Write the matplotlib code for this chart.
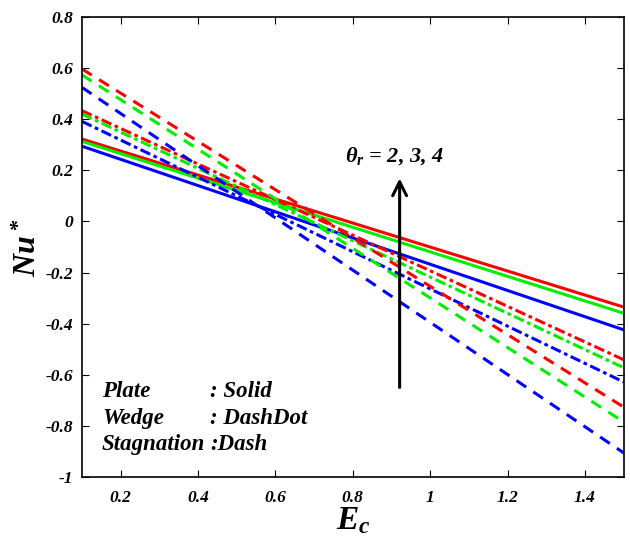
import numpy as np
import matplotlib.pyplot as plt

plt.rcParams['font.family'] = 'Liberation Serif'
plt.rcParams['mathtext.fontset'] = 'custom'
plt.rcParams['mathtext.it'] = 'Liberation Serif:bold:italic'
plt.rcParams['mathtext.rm'] = 'Liberation Serif:bold:italic'
plt.rcParams['mathtext.bf'] = 'Liberation Serif:bold:italic'

# Ec range (lines are straight)
ec = [0.1, 1.5]

# Nu* at Ec = 0.1 and Ec = 1.5, theta_r = 2 (blue), 3 (green), 4 (red)
plate_b = [0.294, -0.424]
plate_g = [0.313, -0.359]
plate_r = [0.322, -0.335]
wedge_b = [0.391, -0.628]
wedge_g = [0.420, -0.572]
wedge_r = [0.433, -0.541]
stag_b = [0.524, -0.905]
stag_g = [0.573, -0.784]
stag_r = [0.596, -0.726]

xticks = [0.2, 0.4, 0.6, 0.8, 1, 1.2, 1.4]
xlabels = ['0.2', '0.4', '0.6', '0.8', '1', '1.2', '1.4']
yticks = [-1, -0.8, -0.6, -0.4, -0.2, 0, 0.2, 0.4, 0.6, 0.8]
ylabels = ['-1', '-0.8', '-0.6', '-0.4', '-0.2', '0', '0.2', '0.4', '0.6', '0.8']

fig = plt.figure(figsize=(6.3, 5.41), dpi=100)
ax = fig.add_axes([0.130, 0.118, 0.860, 0.851])

lw = 2.2
dd = (0, (3.5, 1.2, 1.2, 1.2))
ds = (0, (3.8, 2.8))
ax.plot(ec, plate_r, color='red', lw=lw)
ax.plot(ec, plate_g, color='#00ee00', lw=lw)
ax.plot(ec, plate_b, color='blue', lw=lw)
ax.plot(ec, wedge_r, color='red', lw=lw, ls=dd)
ax.plot(ec, wedge_g, color='#00ee00', lw=lw, ls=dd)
ax.plot(ec, wedge_b, color='blue', lw=lw, ls=dd)
ax.plot(ec, stag_r, color='red', lw=lw, ls=ds)
ax.plot(ec, stag_g, color='#00ee00', lw=lw, ls=ds)
ax.plot(ec, stag_b, color='blue', lw=lw, ls=ds)

ax.set_xlim(0.1, 1.5)
ax.set_ylim(-1, 0.8)
ax.set_xticks(xticks)
ax.set_xticklabels(xlabels)
ax.set_yticks(yticks)
ax.set_yticklabels(ylabels)
ax.tick_params(direction='in', top=True, right=True, length=5, labelsize=12.5)
ax.tick_params(axis='x', pad=9)
ax.tick_params(axis='y', pad=6)
for lab in ax.get_xticklabels() + ax.get_yticklabels():
    lab.set_fontweight('bold')
    lab.set_fontstyle('italic')
for s in ax.spines.values():
    s.set_linewidth(1.2)

ax.set_xlabel(r'$E_c$', fontsize=24, labelpad=0)
ax.set_ylabel(r'$Nu^*$', fontsize=23, labelpad=2)

ax.annotate('', xy=(0.921, 0.179), xytext=(0.921, -0.66),
            arrowprops=dict(arrowstyle='->', lw=2.2, color='black', mutation_scale=25))
ax.text(0.78, 0.257, r'$\theta_r$ = 2, 3, 4', fontsize=16, fontweight='bold',
        fontstyle='italic', va='center')

legend_rows = [('Plate', ': Solid'), ('Wedge', ': DashDot'), ('Stagnation', ':Dash')]
ly = [-0.665, -0.77, -0.872]
for (a, b), y in zip(legend_rows, ly):
    ax.text(0.152, y, a, fontsize=16.5, fontweight='bold', fontstyle='italic', va='center')
    ax.text(0.432, y, b, fontsize=16.5, fontweight='bold', fontstyle='italic', va='center')

fig.savefig('out.png', dpi=100)
